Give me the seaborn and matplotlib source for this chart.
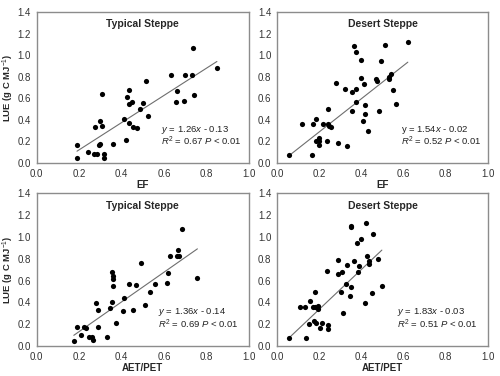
import matplotlib
matplotlib.use('Agg')
import matplotlib.pyplot as plt
import seaborn as sns
import numpy as np
import pandas as pd

# Typical steppe, EF vs LUE
ts_ef = [0.19, 0.19, 0.24, 0.27, 0.285, 0.275, 0.295, 0.30, 0.30, 0.31, 0.31, 0.317, 0.318,
         0.36, 0.41, 0.42, 0.425, 0.435, 0.435, 0.437, 0.45, 0.455, 0.474, 0.485, 0.50,
         0.517, 0.525, 0.635, 0.66, 0.655, 0.70, 0.695, 0.732, 0.735, 0.742, 0.85]
ts_ef_lue = [0.17, 0.046, 0.10, 0.083, 0.083, 0.335, 0.166, 0.18, 0.39, 0.637, 0.345, 0.083, 0.05,
             0.18, 0.406, 0.21, 0.615, 0.37, 0.68, 0.55, 0.565, 0.33, 0.32, 0.50, 0.557,
             0.757, 0.44, 0.82, 0.668, 0.57, 0.82, 0.572, 0.82, 1.068, 0.63, 0.877]

# Desert steppe, EF vs LUE
ds_ef = [0.057, 0.117, 0.165, 0.17, 0.184, 0.187, 0.198, 0.20, 0.20, 0.22, 0.235, 0.24, 0.24,
         0.245, 0.257, 0.28, 0.29, 0.324, 0.333, 0.356, 0.356, 0.365, 0.376, 0.376, 0.376,
         0.397, 0.397, 0.413, 0.408, 0.416, 0.417, 0.433, 0.484, 0.468, 0.476, 0.492, 0.513,
         0.529, 0.529, 0.54, 0.549, 0.562, 0.62]
ds_ef_lue = [0.074, 0.357, 0.074, 0.357, 0.41, 0.20, 0.20, 0.234, 0.166, 0.357, 0.203, 0.363, 0.498,
             0.345, 0.338, 0.745, 0.19, 0.686, 0.16, 0.658, 0.486, 1.086, 1.025, 0.683, 0.57,
             0.954, 0.79, 0.735, 0.385, 0.455, 0.542, 0.298, 0.483, 0.778, 0.757, 0.948, 1.095,
             0.778, 0.794, 0.825, 0.68, 0.545, 1.12]

# Typical steppe, AET/PET vs LUE
ts_ap = [0.175, 0.188, 0.208, 0.222, 0.233, 0.248, 0.262, 0.267, 0.278, 0.288, 0.288, 0.332,
         0.347, 0.357, 0.358, 0.36, 0.358, 0.355, 0.372, 0.405, 0.412, 0.434, 0.456, 0.468,
         0.491, 0.512, 0.533, 0.558, 0.616, 0.619, 0.63, 0.66, 0.668, 0.673, 0.684, 0.758]
ts_ap_lue = [0.05, 0.178, 0.098, 0.178, 0.163, 0.086, 0.086, 0.052, 0.394, 0.332, 0.178, 0.083,
             0.351, 0.68, 0.64, 0.615, 0.548, 0.403, 0.212, 0.32, 0.443, 0.566, 0.329, 0.56,
             0.757, 0.372, 0.498, 0.572, 0.575, 0.671, 0.825, 0.828, 0.877, 0.825, 1.071, 0.628]

# Desert steppe, AET/PET vs LUE
ds_ap = [0.056, 0.107, 0.135, 0.139, 0.151, 0.158, 0.17, 0.174, 0.18, 0.182, 0.183, 0.194, 0.194,
         0.204, 0.215, 0.239, 0.244, 0.244, 0.288, 0.291, 0.301, 0.307, 0.314, 0.331, 0.326,
         0.346, 0.35, 0.35, 0.352, 0.363, 0.377, 0.382, 0.389, 0.40, 0.419, 0.424, 0.427,
         0.436, 0.438, 0.449, 0.457, 0.481, 0.497]
ds_ap_lue = [0.077, 0.36, 0.36, 0.077, 0.20, 0.415, 0.36, 0.231, 0.498, 0.354, 0.215, 0.369, 0.338,
             0.166, 0.212, 0.686, 0.197, 0.157, 0.662, 0.79, 0.492, 0.683, 0.305, 0.745, 0.566,
             0.455, 0.545, 1.089, 1.10, 0.778, 0.948, 0.683, 0.738, 0.978, 0.39, 1.126, 0.828,
             0.778, 0.754, 0.486, 1.025, 0.794, 0.548]

titles = ['Typical Steppe', 'Desert Steppe', 'Typical Steppe', 'Desert Steppe']
xlabels = ['EF', 'EF', 'AET/PET', 'AET/PET']
slopes = [1.26, 1.54, 1.36, 1.83]
intercepts = [-0.13, -0.02, -0.14, -0.03]
r2 = [0.67, 0.52, 0.69, 0.51]
y_italic = [True, False, True, True]

sns.set_style('white')
plt.rcParams['font.family'] = ['Liberation Sans', 'DejaVu Sans']
plt.rcParams['mathtext.fontset'] = 'custom'
plt.rcParams['mathtext.rm'] = 'Liberation Sans'
plt.rcParams['mathtext.it'] = 'Liberation Sans:italic'
plt.rcParams['mathtext.bf'] = 'Liberation Sans:bold'

fig = plt.figure(figsize=(5, 3.76), dpi=100)
rects = [[0.0734, 0.5665, 0.424, 0.4016], [0.554, 0.5665, 0.422, 0.4016],
         [0.0734, 0.0798, 0.424, 0.406], [0.554, 0.0798, 0.422, 0.406]]
eq_pos = [(0.586, 0.218, 0.143), (0.59, 0.218, 0.143), (0.574, 0.222, 0.143), (0.569, 0.222, 0.143)]

datasets = [(ts_ef, ts_ef_lue), (ds_ef, ds_ef_lue), (ts_ap, ts_ap_lue), (ds_ap, ds_ap_lue)]
frame_col = '#8c8c8c'
for i, (xs, ys) in enumerate(datasets):
    ax = fig.add_axes(rects[i])
    df = pd.DataFrame({'x': xs, 'y': ys})
    sns.scatterplot(data=df, x='x', y='y', ax=ax, color='black', s=14, linewidth=0, zorder=3)
    xl = np.array([min(xs), max(xs)])
    line = pd.DataFrame({'x': xl, 'y': slopes[i] * xl + intercepts[i]})
    sns.lineplot(data=line, x='x', y='y', ax=ax, color='#6e6e6e', linewidth=0.8, zorder=2)
    ax.set_xlim(0, 1.0)
    ax.set_ylim(0, 1.4)
    ax.set_xticks(np.arange(0, 1.01, 0.2))
    ax.set_yticks(np.arange(0, 1.41, 0.2))
    ax.xaxis.set_major_formatter(matplotlib.ticker.FormatStrFormatter('%.1f'))
    ax.yaxis.set_major_formatter(matplotlib.ticker.FormatStrFormatter('%.1f'))
    ax.tick_params(axis='both', labelsize=7, colors='#333333', length=0, pad=4)
    ax.tick_params(axis='y', length=2.5, color=frame_col, width=0.8, direction='out', pad=1.5)
    for sp in ax.spines.values():
        sp.set_color(frame_col)
        sp.set_linewidth(1.0)
    ax.set_xlabel(xlabels[i], fontsize=7, fontweight='bold', labelpad=1)
    if i % 2 == 0:
        ax.set_ylabel('LUE (g C MJ$^{-1}$)', fontsize=6.8, fontweight='bold', labelpad=1)
    else:
        ax.set_ylabel('')
    ax.text(0.5, 0.92, titles[i], transform=ax.transAxes, ha='center', va='center',
            fontsize=7.5, fontweight='bold')
    xe, y1, y2 = eq_pos[i]
    yv = '$y$' if y_italic[i] else 'y'
    sign = '-' if intercepts[i] < 0 else '+'
    ax.text(xe, y1, f'{yv} = {slopes[i]:.2f}$x$ {sign} {abs(intercepts[i]):.2f}',
            transform=ax.transAxes, ha='left', va='center', fontsize=6.8, color='#222222')
    ax.text(xe, y2, f'$R^2$ = {r2[i]:.2f} $P$ < 0.01',
            transform=ax.transAxes, ha='left', va='center', fontsize=6.8, color='#222222')

fig.savefig('out.png', dpi=100)
